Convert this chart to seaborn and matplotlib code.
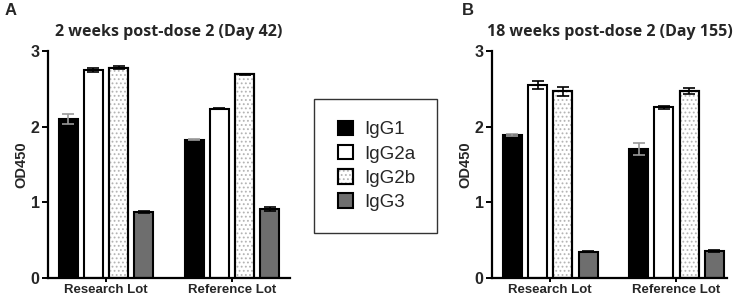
import numpy as np
import pandas as pd
import matplotlib
matplotlib.use("Agg")
import matplotlib.pyplot as plt
import seaborn as sns
from matplotlib.patches import Patch, Rectangle

# data
lots = ["Research Lot", "Reference Lot"]
isotypes = ["IgG1", "IgG2a", "IgG2b", "IgG3"]

day42_mean = {"Research Lot": [2.10, 2.75, 2.78, 0.87],
              "Reference Lot": [1.83, 2.24, 2.69, 0.91]}
day42_err = {"Research Lot": [0.07, 0.03, 0.02, 0.01],
             "Reference Lot": [0.01, 0.01, 0.01, 0.03]}
day155_mean = {"Research Lot": [1.89, 2.55, 2.47, 0.35],
               "Reference Lot": [1.70, 2.26, 2.47, 0.36]}
day155_err = {"Research Lot": [0.01, 0.05, 0.06, 0.01],
              "Reference Lot": [0.08, 0.02, 0.04, 0.01]}

titles = ["2 weeks post-dose 2 (Day 42)", "18 weeks post-dose 2 (Day 155)"]

face = {"IgG1": "black", "IgG2a": "white", "IgG2b": "white", "IgG3": "#6e6e6e"}
errcol = {"IgG1": "#9a9a9a", "IgG2a": "black", "IgG2b": "black", "IgG3": "black"}
dots = "...."
dotcol = "#b4b4b4"


def to_df(means, errs):
    rows = []
    for lot in lots:
        for iso, m, e in zip(isotypes, means[lot], errs[lot]):
            rows.append({"lot": lot, "iso": iso, "od": m, "err": e})
    return pd.DataFrame(rows)


sns.set_style("ticks")
plt.rcParams["font.family"] = ["Liberation Sans", "DejaVu Sans"]
plt.rcParams["hatch.linewidth"] = 0.8

fig = plt.figure(figsize=(7.36, 2.99), dpi=100)
axA = fig.add_axes([0.0652, 0.0700, 0.3288, 0.7594])
axB = fig.add_axes([0.6685, 0.0700, 0.3193, 0.7594])

panels = [(axA, to_df(day42_mean, day42_err), (-0.46, 1.46)),
          (axB, to_df(day155_mean, day155_err), (-0.46, 1.40))]

for (ax, df, xl), title in zip(panels, titles):
    sns.barplot(data=df, x="lot", y="od", hue="iso", order=lots,
                hue_order=isotypes, palette=face, width=0.8, gap=0.25,
                errorbar=None, edgecolor="black", linewidth=1.5,
                legend=False, ax=ax)
    for i, iso in enumerate(isotypes):
        cont = ax.containers[i]
        sub = df[df["iso"] == iso].set_index("lot").loc[lots]
        xs = [p.get_x() + p.get_width() / 2 for p in cont.patches]
        ax.errorbar(xs, sub["od"].values, yerr=sub["err"].values, fmt="none",
                    ecolor=errcol[iso], elinewidth=1.2, capsize=4,
                    capthick=1.2, zorder=5)
        if iso == "IgG2b":
            # light stipple laid over the white bar
            for p in cont.patches:
                ax.add_patch(Rectangle((p.get_x(), 0), p.get_width(), p.get_height(),
                                       fill=False, hatch=dots, edgecolor=dotcol,
                                       linewidth=0, zorder=p.get_zorder() + 0.1))
                ax.add_patch(Rectangle((p.get_x(), 0), p.get_width(), p.get_height(),
                                       fill=False, edgecolor="black",
                                       linewidth=1.5, zorder=p.get_zorder() + 0.2))
    ax.set_ylim(0, 3)
    ax.set_xlim(*xl)
    ax.set_yticks([0, 1, 2, 3])
    ax.set_yticklabels(["0", "1", "2", "3"], fontweight="bold", fontsize=11.5)
    ax.set_xticks([0, 1])
    ax.set_xticklabels(lots, fontweight="bold", fontsize=9.5)
    ax.set_xlabel("")
    ax.set_ylabel("OD450", fontweight="bold", fontsize=10.5, labelpad=2)
    ax.tick_params(axis="both", width=1.4, color="black")
    ax.tick_params(axis="y", length=4, pad=2)
    ax.tick_params(axis="x", length=3, pad=1)
    for s in ["left", "bottom"]:
        ax.spines[s].set_linewidth(1.6)
        ax.spines[s].set_color("black")
    sns.despine(ax=ax)
    ax.set_title(title, fontweight="bold", fontsize=11.5, family="Open Sans", pad=11)

fig.text(0.006, 0.965, "A", fontweight="bold", fontsize=12, va="center")
fig.text(0.627, 0.965, "B", fontweight="bold", fontsize=12, va="center")

# legend in its own box
fig.patches.append(Rectangle((0.4266, 0.2207), 0.1672, 0.4482, transform=fig.transFigure,
                             fill=False, edgecolor="#333333", linewidth=1.0))
handles = []
for k in isotypes:
    box = Patch(facecolor=face[k], edgecolor="black", linewidth=1.5)
    if k == "IgG2b":
        handles.append((box, Patch(fill=False, hatch=dots, edgecolor=dotcol, linewidth=0),
                        Patch(fill=False, edgecolor="black", linewidth=1.5)))
    else:
        handles.append(box)
fig.legend(handles, isotypes, loc="center", bbox_to_anchor=(0.512, 0.445),
           frameon=False, fontsize=13.5, handlelength=0.8, handleheight=0.8,
           handletextpad=0.6, labelspacing=0.35)

fig.savefig("out.png", dpi=100)
